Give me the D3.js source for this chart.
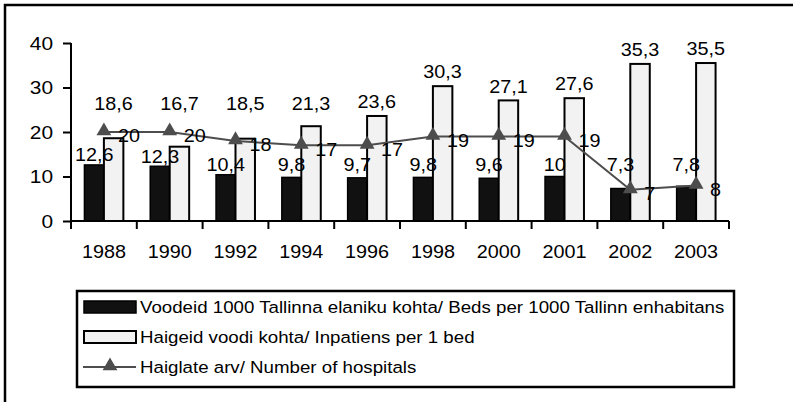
<!DOCTYPE html>
<html>
<head>
<meta charset="utf-8">
<script src="https://cdn.jsdelivr.net/npm/d3@7"></script>
<style>
  body { margin: 0; background: #fff; }
  text { font-family: "Liberation Sans", Arial, sans-serif; fill: #000; }
</style>
</head>
<body>
<script>
var width = 793;
var height = 402;

// data
var years = ["1988", "1990", "1992", "1994", "1996", "1998", "2000", "2001", "2002", "2003"];
var beds = [12.6, 12.3, 10.4, 9.8, 9.7, 9.8, 9.6, 10, 7.3, 7.8];
var inpatients = [18.6, 16.7, 18.5, 21.3, 23.6, 30.3, 27.1, 27.6, 35.3, 35.5];
var hospitals = [20, 20, 18, 17, 17, 19, 19, 19, 7, 8];
var yTicks = [0, 10, 20, 30, 40];
var legendNames = [
  "Voodeid 1000 Tallinna elaniku kohta/ Beds per 1000 Tallinn enhabitans",
  "Haigeid voodi kohta/ Inpatiens per 1 bed",
  "Haiglate arv/ Number of hospitals"
];

var fmt = function(v) { return String(v).replace(".", ","); };

// the original picture is a bit wider than tall, so text gets stretched
var stretch = 1.1;
function widen(sel) {
  sel.attr("transform", function() {
    var tx = +d3.select(this).attr("x") || 0;
    return "translate(" + tx + ",0) scale(" + stretch + ",1) translate(" + (-tx) + ",0)";
  });
}

var svg = d3.select("body").append("svg")
  .attr("width", width)
  .attr("height", height);

// outer frame (only left and top edges visible)
svg.append("path")
  .attr("d", "M5," + height + " L5,5 L" + width + ",5")
  .attr("fill", "none")
  .attr("stroke", "#000")
  .attr("stroke-width", 2.5);

var x = d3.scaleBand().domain(years).range([71, 729]).padding(0);
var y = d3.scaleLinear().domain([0, 40]).range([221, 43]);
var inner = d3.scaleBand().domain(["beds", "inp"]).range([0, x.bandwidth()]).paddingOuter(0.69).paddingInner(0);

// bars
var g = svg.append("g");
years.forEach(function(yr, i) {
  g.append("rect")
    .attr("x", x(yr) + inner("beds"))
    .attr("y", y(beds[i]))
    .attr("width", inner.bandwidth())
    .attr("height", y(0) - y(beds[i]))
    .attr("fill", "#111")
    .attr("stroke", "#000")
    .attr("stroke-width", 1.5);
  g.append("rect")
    .attr("x", x(yr) + inner("inp"))
    .attr("y", y(inpatients[i]))
    .attr("width", inner.bandwidth())
    .attr("height", y(0) - y(inpatients[i]))
    .attr("fill", "#f2f2f2")
    .attr("stroke", "#000")
    .attr("stroke-width", 2);
});

// axes
var yAxis = svg.append("g")
  .attr("transform", "translate(71,0)")
  .call(d3.axisLeft(y).tickValues(yTicks).tickSize(8).tickPadding(10).tickFormat(d3.format("d")));
var xAxis = svg.append("g")
  .attr("transform", "translate(0,221)")
  .call(d3.axisBottom(x).tickSize(0).tickPadding(24));
// ticks between categories
xAxis.selectAll(".sep")
  .data(years.concat(["end"]))
  .enter().append("line")
  .attr("class", "sep")
  .attr("x1", function(d, i) { return i < years.length ? x(d) : x.range()[1]; })
  .attr("x2", function(d, i) { return i < years.length ? x(d) : x.range()[1]; })
  .attr("y1", 0).attr("y2", 8)
  .attr("stroke", "#000").attr("stroke-width", 2);

[yAxis, xAxis].forEach(function(a) {
  a.select(".domain").attr("stroke", "#000").attr("stroke-width", 2);
  a.selectAll(".tick line").attr("stroke", "#000").attr("stroke-width", 2);
  a.selectAll(".tick text").attr("font-family", null).attr("font-size", null);
});
yAxis.selectAll(".tick text").style("font-size", "19px").call(widen);
xAxis.selectAll(".tick text").style("font-size", "18px").call(widen);
yAxis.select(".domain").attr("d", "M0,221V43");
xAxis.select(".domain").attr("d", "M71,0H729");

// line of hospitals
var cx = function(i) { return x(years[i]) + x.bandwidth() / 2; };
var line = d3.line()
  .x(function(d, i) { return cx(i); })
  .y(function(d) { return y(d); });
svg.append("path")
  .datum(hospitals)
  .attr("d", line)
  .attr("fill", "none")
  .attr("stroke", "#4d4d4d")
  .attr("stroke-width", 2);
var tri = d3.symbol().type(d3.symbolTriangle).size(95);
svg.selectAll(".tri")
  .data(hospitals)
  .enter().append("path")
  .attr("class", "tri")
  .attr("d", tri)
  .attr("transform", function(d, i) { return "translate(" + cx(i) + "," + (y(d) - 1) + ")"; })
  .attr("fill", "#4d4d4d");

// data labels
var labels = svg.append("g").style("font-size", "18px");
beds.forEach(function(v, i) {
  labels.append("text")
    .attr("x", x(years[i]) + inner("beds") + inner.bandwidth() / 2)
    .attr("y", Math.min(y(v) - 10, 165))
    .attr("dy", "0.35em")
    .attr("text-anchor", "middle")
    .text(fmt(v));
});
inpatients.forEach(function(v, i) {
  labels.append("text")
    .attr("x", x(years[i]) + inner("inp") + inner.bandwidth() / 2)
    .attr("y", Math.min(y(v) - 14, 104))
    .attr("dy", "0.35em")
    .attr("text-anchor", "middle")
    .text(fmt(v));
});
hospitals.forEach(function(v, i) {
  labels.append("text")
    .attr("x", cx(i) + 14)
    .attr("y", y(v) + 4)
    .attr("dy", "0.35em")
    .attr("text-anchor", "start")
    .text(fmt(v));
});
labels.selectAll("text").call(widen);

// legend
var lg = svg.append("g");
lg.append("rect")
  .attr("x", 77).attr("y", 291)
  .attr("width", 657).attr("height", 96)
  .attr("fill", "#fff")
  .attr("stroke", "#000")
  .attr("stroke-width", 2.5);
var rowY = [307, 337, 367];
lg.append("rect")
  .attr("x", 84).attr("y", rowY[0] - 6).attr("width", 52).attr("height", 12)
  .attr("fill", "#111").attr("stroke", "#000").attr("stroke-width", 1.5);
lg.append("rect")
  .attr("x", 84).attr("y", rowY[1] - 6).attr("width", 52).attr("height", 12)
  .attr("fill", "#f2f2f2").attr("stroke", "#000").attr("stroke-width", 2);
lg.append("line")
  .attr("x1", 83).attr("x2", 136).attr("y1", rowY[2]).attr("y2", rowY[2])
  .attr("stroke", "#4d4d4d").attr("stroke-width", 2);
lg.append("path")
  .attr("d", tri)
  .attr("transform", "translate(110," + (rowY[2] - 1) + ")")
  .attr("fill", "#4d4d4d");
lg.selectAll(".ltext")
  .data(legendNames)
  .enter().append("text")
  .attr("class", "ltext")
  .attr("x", 140)
  .attr("y", function(d, i) { return rowY[i]; })
  .attr("dy", "0.35em")
  .style("font-size", "17px")
  .text(function(d) { return d; })
  .call(widen);
</script>
</body>
</html>
